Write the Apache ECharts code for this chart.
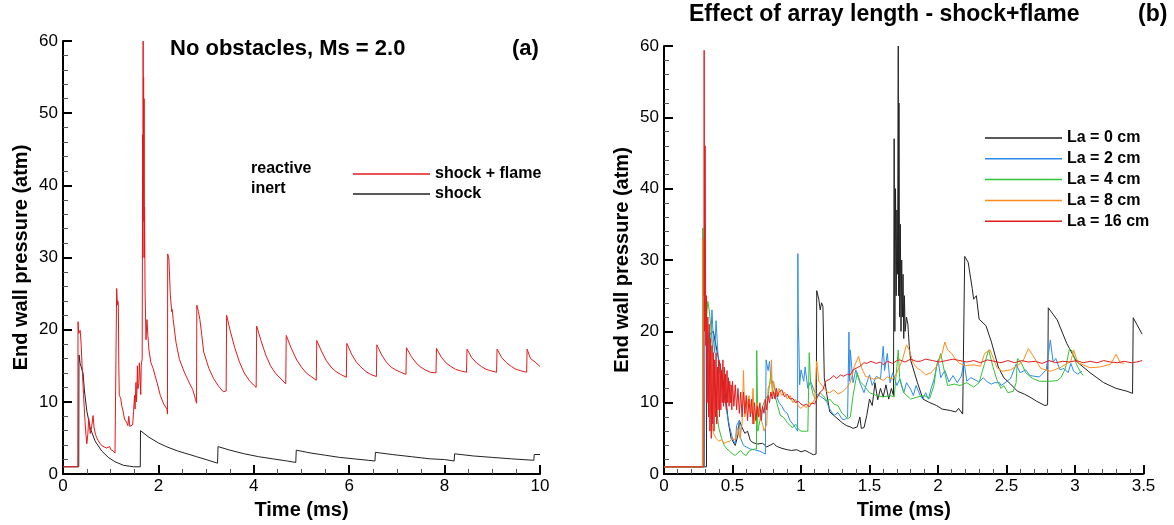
<!DOCTYPE html>
<html><head><meta charset="utf-8">
<script src="https://cdn.jsdelivr.net/npm/echarts@6/dist/echarts.min.js"></script>
<style>html,body{margin:0;padding:0;background:#fff}#c{width:1174px;height:525px}</style>
</head><body><div id="c"></div>
<script>
// ---- Panel (a): No obstacles, Ms = 2.0 ----
const reactive = [[0,1],[0.31,1],[0.315,21.1],[0.33,19.5],[0.36,19.9],[0.38,18],[0.40,15],[0.43,11],[0.46,7.5],[0.48,5.5],[0.50,4.2],[0.52,5.5],[0.54,7.7],[0.555,6.5],[0.57,5.6],[0.60,6.5],[0.63,8.1],[0.65,6.5],[0.68,5.5],[0.71,5],[0.74,4.6],[0.78,4.2],[0.82,3.9],[0.86,3.7],[0.91,3.6],[0.95,3.5],[0.98,3.8],[1.0,3.4],[1.05,3.2],[1.09,2.9],[1.12,2.9],[1.125,25.7],[1.14,23.4],[1.15,24],[1.16,23.5],[1.17,15],[1.18,10.9],[1.21,10.5],[1.23,9.5],[1.26,8.7],[1.29,7.6],[1.33,7.2],[1.36,6.7],[1.38,8],[1.40,6.6],[1.44,6.5],[1.46,6.8],[1.48,8.7],[1.50,10.9],[1.51,9],[1.53,12.7],[1.54,10],[1.55,11.5],[1.56,15],[1.57,11.8],[1.59,12.5],[1.60,15.4],[1.62,13],[1.63,11],[1.64,15],[1.66,16],[1.67,47],[1.675,30],[1.68,60],[1.685,38],[1.69,55],[1.695,35],[1.70,52],[1.705,30],[1.71,37],[1.72,25.5],[1.74,18.6],[1.76,21.4],[1.78,19.2],[1.80,17.3],[1.84,15.5],[1.89,14.6],[1.97,12.7],[2.04,10.9],[2.11,9.7],[2.18,9.0],[2.19,8.3],[2.195,30.5],[2.22,29.8],[2.25,24.8],[2.28,22.5],[2.29,22.8],[2.31,21.4],[2.37,18.2],[2.44,15.9],[2.55,14],[2.65,12.6],[2.72,11.7],[2.78,10.3],[2.80,9.8],[2.805,23.4],[2.84,22.5],[2.87,21.4],[2.91,19.2],[2.95,16.9],[3.06,14.6],[3.16,13.2],[3.27,12.1],[3.36,11.4],[3.42,11.5],[3.43,22],[3.5,20],[3.6,17.5],[3.7,15.5],[3.8,14],[3.9,13],[4.0,12.3],[4.05,12],[4.06,20.5],[4.15,18.5],[4.25,16.5],[4.35,15],[4.45,14],[4.55,13.3],[4.67,12.5],[4.68,19.2],[4.78,17.5],[4.9,15.8],[5.0,14.8],[5.1,14.0],[5.2,13.5],[5.31,13],[5.32,18.5],[5.42,17],[5.52,15.7],[5.62,14.8],[5.72,14.2],[5.82,13.8],[5.94,13.4],[5.95,18.1],[6.05,16.6],[6.15,15.5],[6.25,14.8],[6.35,14.2],[6.45,13.8],[6.57,13.5],[6.58,17.9],[6.68,16.5],[6.78,15.5],[6.88,14.8],[6.98,14.4],[7.08,14.1],[7.19,13.8],[7.2,17.5],[7.3,16.3],[7.4,15.4],[7.5,14.8],[7.6,14.4],[7.7,14.1],[7.82,14.0],[7.83,17.4],[7.93,16.2],[8.03,15.4],[8.13,14.9],[8.23,14.5],[8.33,14.3],[8.46,14.1],[8.47,17.3],[8.57,16.1],[8.67,15.4],[8.77,14.9],[8.87,14.5],[8.97,14.3],[9.09,14.1],[9.10,17.3],[9.2,16.1],[9.3,15.4],[9.4,14.9],[9.5,14.5],[9.6,14.3],[9.72,14.1],[9.73,17.3],[9.8,16],[9.9,15.5],[10,14.9]];
const inert = [[0,1],[0.33,1],[0.335,16.5],[0.36,15.3],[0.40,15.3],[0.42,14],[0.45,11.5],[0.50,8.7],[0.57,6.4],[0.67,4.6],[0.81,3.2],[0.95,2.3],[1.09,1.7],[1.27,1.2],[1.48,1.0],[1.62,1.0],[1.625,6.0],[1.8,5.1],[2.0,4.3],[2.2,3.7],[2.4,3.2],[2.6,2.8],[2.8,2.4],[3.0,2.0],[3.24,1.5],[3.25,3.8],[3.5,3.3],[3.8,2.8],[4.1,2.4],[4.4,2.1],[4.7,1.8],[4.88,1.6],[4.89,3.3],[5.2,2.9],[5.5,2.6],[5.8,2.3],[6.1,2.1],[6.4,1.9],[6.54,1.8],[6.55,3.0],[6.9,2.7],[7.3,2.4],[7.7,2.1],[8.0,2.0],[8.2,1.8],[8.21,2.8],[8.6,2.5],[9.0,2.3],[9.4,2.1],[9.87,1.9],[9.88,2.7],[10,2.7]];

// ---- Panel (b): Effect of array length ----
const la0 = [[0,1],[0.31,1],[0.312,19],[0.33,19.5],[0.36,20],[0.37,19.9],[0.385,17.4],[0.40,16],[0.42,14.2],[0.45,10.9],[0.47,7.2],[0.49,5],[0.52,4],[0.54,5.5],[0.55,7.5],[0.57,6.5],[0.59,5.7],[0.61,6],[0.63,4.7],[0.65,4.4],[0.68,4.2],[0.72,4.3],[0.75,3.8],[0.8,4.3],[0.82,3.9],[0.86,3.6],[0.9,3.4],[0.93,3.3],[0.97,3.4],[1.0,3.1],[1.03,3.3],[1.06,3.0],[1.09,2.7],[1.11,2.8],[1.115,25.7],[1.13,24.5],[1.14,23],[1.15,24],[1.16,23.5],[1.17,13.5],[1.19,11],[1.21,8.7],[1.24,8.2],[1.27,7.7],[1.3,7.2],[1.33,6.8],[1.36,6.6],[1.38,6.4],[1.41,6.6],[1.43,8],[1.44,6.4],[1.46,6.5],[1.48,8.2],[1.50,10.5],[1.52,9.6],[1.54,12.8],[1.56,10.4],[1.58,12],[1.60,10.8],[1.62,12.5],[1.64,10.5],[1.66,12],[1.675,11],[1.68,47],[1.685,20],[1.69,40],[1.695,25],[1.70,37],[1.705,28],[1.71,60],[1.712,25],[1.715,52],[1.72,22],[1.725,35],[1.73,20],[1.735,30],[1.74,22],[1.745,28],[1.75,19],[1.755,25],[1.76,20],[1.77,22],[1.78,21],[1.79,18],[1.80,16],[1.85,12.8],[1.89,10.5],[1.94,10],[1.99,9.6],[2.03,9.1],[2.09,8.9],[2.13,8.7],[2.15,9.2],[2.18,8.4],[2.19,8.5],[2.195,30.5],[2.22,29.7],[2.25,26],[2.26,24.5],[2.28,25],[2.30,21.7],[2.35,20.8],[2.39,18.5],[2.44,15],[2.48,13.5],[2.53,12.6],[2.58,11.6],[2.63,11.2],[2.67,10.8],[2.72,10.2],[2.78,9.6],[2.80,9.7],[2.805,23.3],[2.87,21.6],[2.94,18.3],[3.01,15.8],[3.11,14.2],[3.21,12.8],[3.30,12.0],[3.38,11.6],[3.42,11.3],[3.425,21.9],[3.49,19.6]];
const la2 = [[0,1],[0.295,1],[0.30,24],[0.31,19],[0.32,17],[0.33,20],[0.34,18],[0.35,23],[0.36,19],[0.37,17],[0.38,21.5],[0.39,18],[0.40,15],[0.42,13],[0.44,11],[0.46,8.5],[0.48,6.5],[0.50,5],[0.52,4.2],[0.53,6.8],[0.55,7.5],[0.56,5],[0.58,4],[0.60,3.8],[0.63,3.5],[0.66,3.4],[0.70,3.2],[0.72,3],[0.74,2.8],[0.745,16],[0.76,14.5],[0.77,15.8],[0.78,13.5],[0.80,12.5],[0.82,11],[0.84,10],[0.86,9.5],[0.88,8.8],[0.9,8.5],[0.92,7.5],[0.94,7],[0.96,6.5],[0.975,6],[0.977,30.9],[0.98,21],[0.985,18],[0.99,12.5],[1.0,14.6],[1.02,13],[1.03,15],[1.05,12],[1.07,13],[1.1,11.5],[1.14,10.9],[1.17,10.5],[1.19,10],[1.21,9.1],[1.24,8.2],[1.27,8.6],[1.30,7.7],[1.32,7.6],[1.34,8],[1.35,19.9],[1.355,13],[1.36,17.4],[1.38,12.8],[1.40,14.6],[1.43,12.8],[1.46,11.4],[1.48,12.8],[1.50,13.9],[1.52,12.4],[1.55,13.7],[1.58,13.3],[1.60,17.9],[1.61,14.5],[1.63,16.9],[1.65,12.8],[1.67,14.2],[1.70,12.4],[1.72,13.3],[1.75,11.4],[1.77,12.8],[1.80,11.9],[1.82,11],[1.84,12.4],[1.87,11],[1.89,10.5],[1.91,11.4],[1.93,10.5],[1.95,12],[1.97,13.2],[2.0,16],[2.02,13.5],[2.05,14.5],[2.08,12.9],[2.11,13.8],[2.14,12.8],[2.17,13.7],[2.19,15.8],[2.21,13],[2.24,13.5],[2.27,13.2],[2.30,12.9],[2.33,13.5],[2.36,12.9],[2.39,12.6],[2.41,12.8],[2.45,12.8],[2.46,12.4],[2.49,12.8],[2.53,13.4],[2.57,15.4],[2.60,14.2],[2.64,14.6],[2.67,13.8],[2.74,13.6],[2.79,14.6],[2.82,18.8],[2.84,15.7],[2.86,16.2],[2.89,14.6],[2.92,14.8],[2.95,14.2],[2.97,15.5],[2.99,14.4],[3.02,14],[3.05,14.4]];
const la4 = [[0,1],[0.28,1],[0.283,34.5],[0.29,27],[0.30,25],[0.31,22],[0.32,24.2],[0.33,23],[0.34,21],[0.35,19],[0.36,16],[0.37,13],[0.38,10.5],[0.39,8],[0.40,6.5],[0.42,5],[0.44,4],[0.46,3.5],[0.48,3.2],[0.50,2.8],[0.52,2.6],[0.54,3],[0.56,3.3],[0.58,2.8],[0.60,2.6],[0.62,3.2],[0.64,3.4],[0.66,3.5],[0.675,3.5],[0.677,17.3],[0.685,6],[0.70,7.5],[0.72,9.5],[0.74,10.5],[0.76,11],[0.78,14],[0.79,12],[0.81,11],[0.83,9.5],[0.85,8.2],[0.87,8],[0.90,7.2],[0.92,6.8],[0.94,6.5],[0.96,7],[0.98,6.3],[1.0,6],[1.03,6],[1.05,6],[1.06,17],[1.07,12.8],[1.09,11],[1.11,10.5],[1.14,11.4],[1.17,10.8],[1.19,10.2],[1.21,10.5],[1.24,9.8],[1.27,9.6],[1.30,8.5],[1.32,8.2],[1.34,7.7],[1.36,8],[1.38,11],[1.41,14.2],[1.43,13],[1.46,12.4],[1.5,11.4],[1.55,11],[1.6,10.8],[1.65,11],[1.68,10.8],[1.70,15.1],[1.71,17.4],[1.72,13.5],[1.75,11.4],[1.80,10.5],[1.85,10.8],[1.9,11],[1.94,10.6],[1.97,12.4],[1.99,15.1],[2.02,16.9],[2.04,15],[2.07,12.4],[2.12,12.6],[2.16,12.4],[2.21,12.8],[2.26,12.2],[2.30,12.8],[2.34,15.5],[2.37,17.4],[2.40,15.1],[2.43,13.2],[2.46,12.0],[2.48,12.4],[2.51,11.4],[2.55,11.6],[2.57,12.8],[2.58,16.2],[2.61,15.5],[2.64,14.2],[2.69,13.4],[2.74,13],[2.82,13],[2.87,13.1],[2.90,13.6],[2.93,14.8],[2.96,17.6],[2.98,17.2],[3.01,15.4],[3.04,14.3],[3.06,13.8]];
const la8 = [[0,1],[0.282,1],[0.285,33],[0.29,25],[0.30,25.5],[0.31,21],[0.32,16],[0.33,12],[0.34,9],[0.35,7],[0.36,5.8],[0.38,5],[0.40,4.6],[0.42,4.8],[0.44,4.3],[0.46,4.5],[0.48,4.6],[0.5,5],[0.52,4.8],[0.54,6.5],[0.555,5],[0.57,7],[0.58,14.5],[0.59,8],[0.6,9],[0.62,11],[0.64,8.5],[0.65,12],[0.66,7],[0.68,10],[0.70,8],[0.72,7],[0.73,6],[0.75,7],[0.76,12],[0.78,13],[0.785,16],[0.79,11],[0.8,13],[0.82,11],[0.84,12],[0.86,11],[0.88,11.5],[0.9,10.5],[0.92,11],[0.94,10],[0.96,10.5],[0.98,9.5],[1.0,9.2],[1.02,9.6],[1.04,9.3],[1.06,10],[1.08,9.8],[1.1,10.5],[1.115,15.8],[1.13,13],[1.15,12.5],[1.17,12],[1.19,11.5],[1.21,11.4],[1.24,11.8],[1.27,11.2],[1.3,11.5],[1.33,12],[1.36,12.8],[1.39,15.1],[1.42,16.5],[1.44,15],[1.47,13.7],[1.5,13.5],[1.53,13.3],[1.57,13.5],[1.6,13.1],[1.63,13.6],[1.67,13.3],[1.7,14.2],[1.74,16],[1.77,18.1],[1.79,17.4],[1.82,15.5],[1.85,14.8],[1.87,14.6],[1.91,13.9],[1.95,14.2],[1.99,15.1],[2.03,16.9],[2.05,18.5],[2.07,17.4],[2.1,16.9],[2.13,16],[2.16,15.5],[2.2,15.2],[2.26,15.3],[2.31,15.1],[2.34,16.9],[2.38,17.4],[2.43,14.9],[2.47,14.4],[2.53,14.6],[2.58,15.2],[2.62,15.8],[2.66,17.6],[2.70,16.4],[2.75,14.8],[2.82,14.4],[2.89,14.9],[2.97,15.8],[2.99,17.4],[3.02,15.6],[3.11,14.9],[3.18,15],[3.26,15.4],[3.30,16.8],[3.33,15.6],[3.36,15.5]];
const la16 = [[0,1],[0.29,1],[0.293,59.4],[0.297,20],[0.30,46],[0.305,18],[0.31,25],[0.315,10],[0.32,22],[0.325,8],[0.33,21],[0.335,6],[0.34,19],[0.345,5],[0.35,18],[0.355,7],[0.36,17],[0.365,6],[0.37,16],[0.375,8],[0.38,17],[0.385,7],[0.39,15],[0.395,9],[0.40,16],[0.405,8],[0.41,15.5],[0.415,9],[0.42,14.5],[0.425,10],[0.43,16],[0.435,9.5],[0.44,15],[0.445,10],[0.45,14],[0.455,9],[0.46,14.5],[0.465,10],[0.47,13.5],[0.475,9.5],[0.48,13],[0.485,10],[0.49,12.5],[0.495,9],[0.50,13],[0.51,9.5],[0.52,12.5],[0.53,9],[0.54,12],[0.55,8.5],[0.56,11.5],[0.57,8],[0.58,11.5],[0.59,8.5],[0.60,11],[0.61,7.5],[0.62,10.5],[0.63,8],[0.64,10.5],[0.65,7],[0.66,10],[0.67,7.5],[0.68,9.5],[0.69,8],[0.70,10],[0.71,7.5],[0.72,9.5],[0.73,8.5],[0.74,10.5],[0.75,9],[0.76,11],[0.77,10],[0.78,11.5],[0.79,10.5],[0.80,11.5],[0.81,10.5],[0.82,12],[0.83,10.8],[0.84,11.5],[0.86,11.8],[0.88,10.8],[0.90,11.2],[0.92,10.5],[0.94,10.6],[0.96,10],[0.98,10.2],[1.00,9.8],[1.02,9.6],[1.04,9.8],[1.06,9.4],[1.08,10],[1.10,9.8],[1.12,10.8],[1.14,11.5],[1.16,11.8],[1.18,13],[1.21,13.3],[1.24,13.8],[1.26,13.4],[1.29,13.9],[1.31,13.7],[1.34,14],[1.36,13.9],[1.38,14.6],[1.41,14.9],[1.43,15.1],[1.46,15.6],[1.48,15.5],[1.51,15.8],[1.55,15.5],[1.58,15.7],[1.6,15.3],[1.63,15.8],[1.67,15.5],[1.70,15.9],[1.72,16],[1.76,15.7],[1.8,16.1],[1.84,15.8],[1.87,15.8],[1.91,16.1],[1.96,15.9],[2.01,15.7],[2.06,15.9],[2.11,16.1],[2.16,15.9],[2.21,15.7],[2.26,15.9],[2.31,15.6],[2.36,16],[2.41,15.8],[2.46,15.6],[2.51,15.9],[2.56,15.6],[2.61,15.9],[2.66,15.7],[2.71,15.8],[2.76,15.5],[2.81,15.9],[2.86,15.6],[2.91,15.8],[2.96,15.7],[3.01,15.9],[3.06,15.6],[3.11,15.8],[3.16,15.6],[3.21,15.9],[3.26,15.7],[3.31,15.6],[3.36,15.8],[3.41,15.6],[3.45,15.7],[3.49,15.9]];

const FONT = 'Liberation Sans';
const chart = echarts.init(document.getElementById('c'), null, {renderer: 'canvas'});

function xAx(gi, max, interval, minorSplit) {
  return {
    gridIndex: gi, type: 'value', min: 0, max: max, interval: interval,
    name: 'Time (ms)', nameLocation: 'middle', nameGap: 26,
    nameTextStyle: {fontFamily: FONT, fontWeight: 'bold', fontSize: 20, color: '#000'},
    axisLine: {show: true, onZero: false, lineStyle: {color: '#000', width: 2}},
    axisTick: {show: true, inside: true, length: 9, lineStyle: {color: '#000', width: 2}},
    minorTick: {show: true, splitNumber: minorSplit, length: 5, lineStyle: {color: '#555', width: 1}},
    axisLabel: {fontFamily: FONT, fontSize: 17, color: '#000', margin: 4},
    splitLine: {show: false}, minorSplitLine: {show: false}
  };
}
function yAx(gi) {
  return {
    gridIndex: gi, type: 'value', min: 0, max: 60, interval: 10,
    name: 'End wall pressure (atm)', nameLocation: 'middle', nameGap: 32,
    nameTextStyle: {fontFamily: FONT, fontWeight: 'bold', fontSize: 20, color: '#000'},
    axisLine: {show: true, onZero: false, lineStyle: {color: '#000', width: 2}},
    axisTick: {show: true, inside: true, length: 9, lineStyle: {color: '#000', width: 2}},
    minorTick: {show: true, splitNumber: 5, length: 5, lineStyle: {color: '#555', width: 1}},
    axisLabel: {fontFamily: FONT, fontSize: 17, color: '#000', margin: 5},
    splitLine: {show: false}, minorSplitLine: {show: false}
  };
}
function ln(name, data, color, xi, width) {
  return {name: name, type: 'line', data: data, xAxisIndex: xi, yAxisIndex: xi,
    showSymbol: false, symbol: 'none', animation: false,
    lineStyle: {color: color, width: width || 1}, itemStyle: {color: color}};
}

chart.setOption({
  animation: false,
  backgroundColor: '#fff',
  grid: [
    {left: 63, top: 41, width: 477, height: 435},
    {left: 664, top: 46, width: 479.5, height: 433}
  ],
  xAxis: [xAx(0, 10, 2, 4), xAx(1, 3.5, 0.5, 5)],
  yAxis: [yAx(0), yAx(1)],
  legend: [
    {data: ['shock + flame', 'shock'], left: 348, top: 161, orient: 'vertical', icon: 'rect', itemWidth: 77, itemHeight: 1.5, itemGap: 4,
     textStyle: {fontFamily: FONT, fontWeight: 'bold', fontSize: 16, color: '#000'}, selectedMode: false},
    {data: ['La = 0 cm', 'La = 2 cm', 'La = 4 cm', 'La = 8 cm', 'La = 16 cm'], left: 980, top: 125, orient: 'vertical', icon: 'rect', itemWidth: 77, itemHeight: 1.5, itemGap: 4.8,
     textStyle: {fontFamily: FONT, fontWeight: 'bold', fontSize: 16, color: '#000'}, selectedMode: false}
  ],
  graphic: [
    {type: 'text', left: 170, top: 38, style: {text: 'No obstacles, Ms = 2.0', font: 'bold 22px "Liberation Sans"', fill: '#000'}},
    {type: 'text', left: 512, top: 38, style: {text: '(a)', font: 'bold 22px "Liberation Sans"', fill: '#000'}},
    {type: 'text', left: 689, top: 3, style: {text: 'Effect of array length - shock+flame', font: 'bold 23px "Liberation Sans"', fill: '#000'}},
    {type: 'text', left: 1138, top: 3, style: {text: '(b)', font: 'bold 23px "Liberation Sans"', fill: '#000'}},
    {type: 'text', left: 251, top: 161, style: {text: 'reactive', font: 'bold 16px "Liberation Sans"', fill: '#000'}},
    {type: 'text', left: 251, top: 181, style: {text: 'inert', font: 'bold 16px "Liberation Sans"', fill: '#000'}}
  ],
  series: [
    ln('shock', inert, '#222', 0),
    ln('shock + flame', reactive, '#e41a1c', 0),
    ln('La = 0 cm', la0, '#222', 1),
    ln('La = 2 cm', la2, '#2b8cee', 1),
    ln('La = 4 cm', la4, '#33c233', 1),
    ln('La = 8 cm', la8, '#ff8c1a', 1),
    ln('La = 16 cm', la16, '#e21d1d', 1)
  ]
});
</script></body></html>
